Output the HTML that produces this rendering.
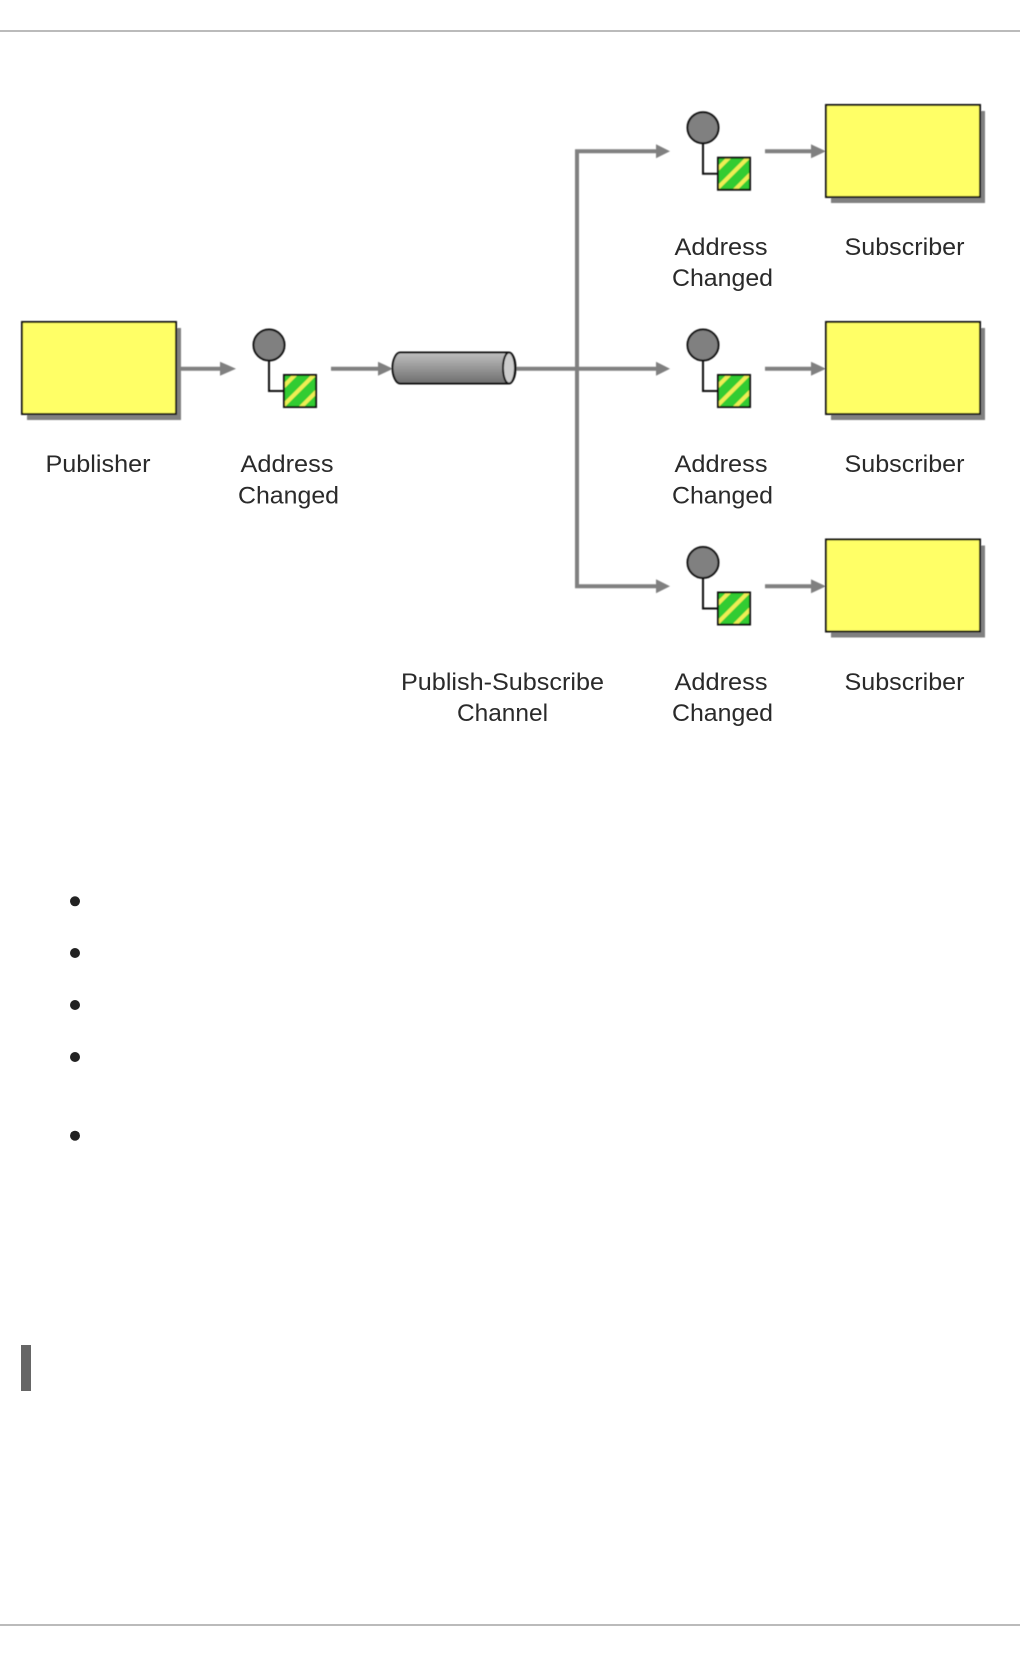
<!DOCTYPE html>
<html>
<head>
<meta charset="utf-8">
<style>
html,body{margin:0;padding:0;background:#fff;width:1020px;height:1656px;overflow:hidden}
svg{display:block}
text{font-family:"Liberation Sans",sans-serif;font-size:24px;fill:#2a2a2a}
</style>
</head>
<body>
<svg width="1020" height="1656" viewBox="0 0 1020 1656" xmlns="http://www.w3.org/2000/svg">
<defs>
<filter id="soft" x="-5%" y="-5%" width="110%" height="110%"><feGaussianBlur stdDeviation="0.45"/></filter>
<linearGradient id="cyl" x1="0" y1="0" x2="0" y2="1">
<stop offset="0" stop-color="#c0c0c0"/><stop offset="1" stop-color="#6e6e6e"/>
</linearGradient>
<clipPath id="sq"><rect x="0" y="0" width="32" height="32"/></clipPath>
<g id="msg">
<path d="M0 16V46H16" fill="none" stroke="#111" stroke-width="2"/>
<circle cx="0" cy="0" r="15.5" fill="#808080" stroke="#111" stroke-width="2"/>
<g transform="translate(15,30)">
<rect width="32" height="32" fill="#33cc33"/>
<g clip-path="url(#sq)" stroke="#eeee55" stroke-width="4">
<path d="M-2 13L13 -2M-2 32L32 -2M15 34L34 15"/>
</g>
<rect width="32" height="32" fill="none" stroke="#111" stroke-width="2"/>
</g>
</g>
<g id="box">
<rect x="5" y="6" width="154" height="92" fill="#808080"/>
<rect x="0" y="0" width="154" height="92" fill="#ffff66" stroke="#111" stroke-width="2"/>
</g>
</defs>

<rect x="0" y="30" width="1020" height="2" fill="#bbb"/>
<rect x="0" y="1624" width="1020" height="2" fill="#bbb"/>

<g filter="url(#soft)">
<g stroke="#808080" stroke-width="4" fill="none">
<path d="M180 368.7H222"/>
<path d="M331 368.7H380"/>
<path d="M516 368.7H658"/>
<path d="M658 151.3H577V586.3H658"/>
<path d="M765 151.3H813"/>
<path d="M765 368.7H813"/>
<path d="M765 586.3H813"/>
</g>
<g fill="#808080">
<path d="M220 361.7L236 368.7L220 375.7Z"/>
<path d="M378 361.7L393 368.7L378 375.7Z"/>
<path d="M656 144.3L670 151.3L656 158.3Z"/>
<path d="M656 361.7L670 368.7L656 375.7Z"/>
<path d="M656 579.3L670 586.3L656 593.3Z"/>
<path d="M811 144.3L826 151.3L811 158.3Z"/>
<path d="M811 361.7L826 368.7L811 375.7Z"/>
<path d="M811 579.3L826 586.3L811 593.3Z"/>
</g>

<use href="#box" x="22" y="322"/>
<use href="#box" x="826" y="105"/>
<use href="#box" x="826" y="322"/>
<use href="#box" x="826" y="539.5"/>

<use href="#msg" x="269" y="345"/>
<use href="#msg" x="703" y="127.7"/>
<use href="#msg" x="703" y="345"/>
<use href="#msg" x="703" y="562.5"/>

<path d="M400 352.5H508C513 352.5 515.5 360 515.5 368C515.5 376 513 383.5 508 383.5H400C396 383.5 392.5 376 392.5 368C392.5 360 396 352.5 400 352.5Z" fill="url(#cyl)" stroke="#111" stroke-width="2"/>
<ellipse cx="509" cy="368" rx="6" ry="15.5" fill="#cccccc" stroke="#111" stroke-width="2"/>
</g>

<text x="45.500" y="472" textLength="105" lengthAdjust="spacingAndGlyphs">Publisher</text>
<text x="240.500" y="472" textLength="93" lengthAdjust="spacingAndGlyphs">Address</text>
<text x="238" y="503.500" textLength="101" lengthAdjust="spacingAndGlyphs">Changed</text>

<text x="674.500" y="255" textLength="93" lengthAdjust="spacingAndGlyphs">Address</text>
<text x="672" y="286" textLength="101" lengthAdjust="spacingAndGlyphs">Changed</text>
<text x="844.500" y="255" textLength="120" lengthAdjust="spacingAndGlyphs">Subscriber</text>

<text x="674.500" y="472" textLength="93" lengthAdjust="spacingAndGlyphs">Address</text>
<text x="672" y="503.500" textLength="101" lengthAdjust="spacingAndGlyphs">Changed</text>
<text x="844.500" y="472" textLength="120" lengthAdjust="spacingAndGlyphs">Subscriber</text>

<text x="674.500" y="690" textLength="93" lengthAdjust="spacingAndGlyphs">Address</text>
<text x="672" y="721" textLength="101" lengthAdjust="spacingAndGlyphs">Changed</text>
<text x="844.500" y="690" textLength="120" lengthAdjust="spacingAndGlyphs">Subscriber</text>

<text x="401" y="690" textLength="203" lengthAdjust="spacingAndGlyphs">Publish-Subscribe</text>
<text x="457" y="721" textLength="91" lengthAdjust="spacingAndGlyphs">Channel</text>

<g fill="#222">
<circle cx="75" cy="901.300" r="5"/>
<circle cx="75" cy="953" r="5"/>
<circle cx="75" cy="1005" r="5"/>
<circle cx="75" cy="1057" r="5"/>
<circle cx="75" cy="1135.700" r="5"/>
</g>

<rect x="21" y="1345" width="10" height="46" fill="#666"/>
</svg>
</body>
</html>
